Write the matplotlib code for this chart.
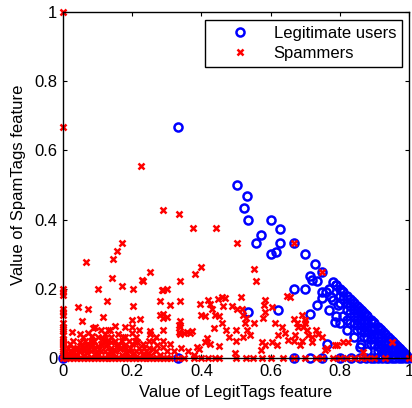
import numpy as np
import matplotlib
matplotlib.use("Agg")
import matplotlib.pyplot as plt

plt.rcParams['font.family'] = ['Liberation Sans', 'DejaVu Sans']

# legitimate users (LegitTags, SpamTags)
legit_upper = [(0.333, 0.667), (0.502, 0.5), (0.531, 0.469), (0.523, 0.434), (0.536, 0.40),
               (0.602, 0.40), (0.627, 0.374), (0.572, 0.356), (0.557, 0.333), (0.627, 0.333),
               (0.667, 0.333), (0.602, 0.30), (0.617, 0.307), (0.70, 0.30), (0.728, 0.273),
               (0.75, 0.25), (0.714, 0.238), (0.72, 0.225), (0.733, 0.222), (0.667, 0.20),
               (0.70, 0.20), (0.79, 0.21), (0.80, 0.20), (0.748, 0.172), (0.733, 0.153),
               (0.776, 0.177), (0.78, 0.167), (0.796, 0.153), (0.714, 0.127), (0.786, 0.105),
               (0.762, 0.04), (0.858, 0.033), (0.534, 0.132), (0.622, 0.139)]
legit_diag = [(0.78, 0.22), (0.79, 0.21), (0.81, 0.19), (0.82, 0.18), (0.83, 0.17),
              (0.84, 0.16), (0.85, 0.15), (0.86, 0.14), (0.87, 0.13), (0.875, 0.125),
              (0.88, 0.12), (0.89, 0.11), (0.9, 0.10), (0.91, 0.09), (0.92, 0.08),
              (0.93, 0.07), (0.94, 0.06), (0.95, 0.05), (0.96, 0.04), (0.97, 0.03),
              (0.98, 0.02), (0.99, 0.01), (1.0, 0.0), (0.805, 0.195), (0.835, 0.165),
              (0.855, 0.145), (0.865, 0.135), (0.895, 0.105), (0.915, 0.085), (0.925, 0.075),
              (0.945, 0.055), (0.955, 0.045), (0.965, 0.035), (0.975, 0.025), (0.985, 0.015)]
legit_band = [(0.8, 0.16), (0.82, 0.14), (0.84, 0.12), (0.86, 0.10), (0.88, 0.08),
              (0.9, 0.06), (0.92, 0.04), (0.94, 0.02), (0.95, 0.01), (0.81, 0.12),
              (0.83, 0.10), (0.85, 0.08), (0.87, 0.06), (0.89, 0.04), (0.91, 0.02),
              (0.92, 0.01), (0.82, 0.08), (0.84, 0.06), (0.86, 0.04), (0.88, 0.02),
              (0.77, 0.20), (0.76, 0.19), (0.80, 0.18), (0.83, 0.15), (0.85, 0.13),
              (0.87, 0.11), (0.89, 0.09), (0.91, 0.07), (0.93, 0.05), (0.95, 0.03),
              (0.97, 0.02), (0.77, 0.14), (0.79, 0.12), (0.80, 0.10), (0.82, 0.11),
              (0.75, 0.19), (0.96, 0.02), (0.98, 0.01), (0.94, 0.04), (0.9, 0.08),
              (0.82, 0.16), (0.84, 0.14), (0.86, 0.12), (0.88, 0.10), (0.90, 0.085),
              (0.92, 0.06), (0.94, 0.045), (0.96, 0.03), (0.98, 0.005), (0.83, 0.13),
              (0.85, 0.11), (0.87, 0.09), (0.89, 0.07), (0.91, 0.05), (0.93, 0.03),
              (0.95, 0.02), (0.97, 0.01), (0.84, 0.10), (0.86, 0.08), (0.88, 0.06),
              (0.90, 0.04), (0.92, 0.025), (0.94, 0.01), (0.85, 0.095), (0.87, 0.075),
              (0.89, 0.055), (0.91, 0.035), (0.93, 0.015), (0.99, 0.005), (0.81, 0.17)]
legit_zero = [(0.0, 0.0), (0.333, 0.0), (0.667, 0.0), (0.714, 0.0), (0.75, 0.0), (0.8, 0.0),
              (0.833, 0.0), (0.857, 0.0), (0.875, 0.0), (0.889, 0.0), (0.9, 0.0), (0.91, 0.0),
              (0.923, 0.0), (0.933, 0.0), (0.94, 0.0), (0.95, 0.0), (0.96, 0.0), (0.97, 0.0),
              (0.98, 0.0), (0.99, 0.0)]

# spammers
spam_scatter = [(0.0, 1.0), (0.0, 0.667), (0.225, 0.555), (0.288, 0.428), (0.336, 0.416),
                (0.375, 0.375), (0.442, 0.375), (0.503, 0.332), (0.667, 0.333), (0.75, 0.25),
                (0.551, 0.257), (0.558, 0.222), (0.17, 0.332), (0.155, 0.308), (0.145, 0.286),
                (0.066, 0.277), (0.40, 0.264), (0.251, 0.25), (0.381, 0.243), (0.141, 0.232),
                (0.227, 0.225), (0.232, 0.222), (0.338, 0.222), (0.17, 0.207), (0.102, 0.20),
                (0.203, 0.20), (0.288, 0.197), (0.30, 0.199), (0.338, 0.166), (0.126, 0.166),
                (0.28, 0.164), (0.309, 0.154), (0.044, 0.148), (0.073, 0.141), (0.203, 0.15),
                (0.29, 0.127), (0.30, 0.118), (0.199, 0.11), (0.223, 0.113), (0.338, 0.108),
                (0.054, 0.106), (0.117, 0.118), (0.15, 0.093), (0.136, 0.081), (0.088, 0.087),
                (0.174, 0.06), (0.208, 0.05), (0.251, 0.079), (0.261, 0.05), (0.29, 0.031),
                (0.338, 0.089), (0.338, 0.069), (0.357, 0.074), (0.372, 0.079), (0.386, 0.031),
                (0.025, 0.074), (0.059, 0.062), (0.073, 0.071), (0.083, 0.064), (0.396, 0.156),
                (0.41, 0.122), (0.42, 0.168), (0.459, 0.177), (0.449, 0.17), (0.468, 0.174),
                (0.514, 0.177), (0.425, 0.155), (0.463, 0.151), (0.488, 0.151), (0.502, 0.143),
                (0.516, 0.143), (0.584, 0.168), (0.582, 0.153), (0.603, 0.148), (0.431, 0.141),
                (0.439, 0.124), (0.399, 0.124), (0.521, 0.124), (0.528, 0.115), (0.526, 0.10),
                (0.553, 0.10), (0.579, 0.115), (0.584, 0.134), (0.613, 0.10), (0.632, 0.09),
                (0.335, 0.095), (0.335, 0.076), (0.349, 0.072), (0.367, 0.071), (0.437, 0.088),
                (0.415, 0.057), (0.41, 0.045), (0.425, 0.04), (0.451, 0.036), (0.393, 0.026),
                (0.531, 0.081), (0.541, 0.066), (0.574, 0.047), (0.584, 0.038), (0.603, 0.045),
                (0.618, 0.038), (0.622, 0.066), (0.642, 0.071), (0.651, 0.052), (0.497, 0.014),
                (0.572, 0.023), (0.656, 0.177), (0.69, 0.124), (0.668, 0.113), (0.68, 0.09),
                (0.695, 0.09), (0.704, 0.081), (0.709, 0.066), (0.719, 0.047), (0.738, 0.068),
                (0.748, 0.062), (0.671, 0.066), (0.667, 0.05), (0.685, 0.038), (0.791, 0.038),
                (0.81, 0.047), (0.825, 0.047), (0.757, 0.023), (0.95, 0.047), (0.646, 0.18),
                (0.285, 0.197), (0.29, 0.081), (0.28, 0.124), (0.29, 0.115), (0.213, 0.047),
                (0.199, 0.071), (0.179, 0.062), (0.092, 0.09), (0.251, 0.068), (0.271, 0.038),
                (0.48, 0.06), (0.47, 0.08), (0.50, 0.05), (0.46, 0.10), (0.45, 0.12),
                (0.50, 0.08), (0.52, 0.06), (0.70, 0.10), (0.72, 0.06), (0.69, 0.05),
                (0.73, 0.08), (0.70, 0.11), (0.676, 0.10), (0.786, 0.038), (0.762, 0.028),
                (0.868, 0.018)]
spam_origin = [(0.01, 0.01), (0.02, 0.02), (0.03, 0.01), (0.04, 0.03), (0.05, 0.02),
               (0.06, 0.01), (0.07, 0.04), (0.08, 0.02), (0.09, 0.03), (0.1, 0.01),
               (0.11, 0.04), (0.12, 0.02), (0.13, 0.05), (0.14, 0.03), (0.15, 0.02),
               (0.16, 0.04), (0.17, 0.01), (0.18, 0.03), (0.19, 0.02), (0.2, 0.04),
               (0.21, 0.02), (0.22, 0.03), (0.23, 0.01), (0.24, 0.02), (0.25, 0.03),
               (0.27, 0.02), (0.28, 0.01), (0.3, 0.02), (0.02, 0.04), (0.03, 0.05),
               (0.05, 0.045), (0.06, 0.03), (0.08, 0.05), (0.1, 0.06), (0.11, 0.02),
               (0.12, 0.05), (0.13, 0.01), (0.14, 0.06), (0.15, 0.05), (0.16, 0.07),
               (0.09, 0.05), (0.07, 0.015), (0.04, 0.01), (0.1, 0.035), (0.12, 0.07),
               (0.14, 0.045), (0.17, 0.05), (0.19, 0.05), (0.21, 0.06), (0.23, 0.04),
               (0.25, 0.05), (0.27, 0.06), (0.05, 0.07), (0.11, 0.08), (0.13, 0.08),
               (0.18, 0.09), (0.2, 0.09), (0.22, 0.08), (0.035, 0.025), (0.015, 0.03),
               (0.065, 0.05), (0.095, 0.015), (0.125, 0.035), (0.155, 0.035), (0.185, 0.015),
               (0.205, 0.015), (0.215, 0.045), (0.245, 0.015), (0.26, 0.025), (0.29, 0.05),
               (0.31, 0.04), (0.32, 0.02), (0.34, 0.03), (0.36, 0.02), (0.38, 0.01),
               (0.025, 0.015), (0.045, 0.02), (0.055, 0.035), (0.075, 0.025), (0.085, 0.04),
               (0.105, 0.025), (0.115, 0.055), (0.135, 0.02), (0.145, 0.015), (0.165, 0.025),
               (0.175, 0.035), (0.195, 0.03), (0.225, 0.02), (0.235, 0.03), (0.255, 0.01),
               (0.01, 0.02), (0.02, 0.01), (0.03, 0.03), (0.06, 0.02), (0.08, 0.035)]
spam_axis_y = [0.2, 0.19, 0.182, 0.143, 0.133, 0.125, 0.1, 0.091, 0.083, 0.077, 0.067,
               0.056, 0.05, 0.045, 0.04, 0.033, 0.025, 0.02, 0.01]
spam_axis_x = [0.0, 0.01, 0.02, 0.03, 0.04, 0.05, 0.06, 0.07, 0.08, 0.09, 0.1, 0.11, 0.12,
               0.13, 0.14, 0.15, 0.16, 0.17, 0.18, 0.19, 0.2, 0.21, 0.22, 0.23, 0.24, 0.25,
               0.26, 0.27, 0.28, 0.29, 0.3, 0.31, 0.333, 0.35, 0.378, 0.4, 0.42, 0.44, 0.45,
               0.5, 0.53, 0.55, 0.576, 0.6, 0.636, 0.667, 0.7, 0.73, 0.75, 0.78, 0.8, 0.82,
               0.84, 0.86, 0.88, 0.9, 0.93, 1.0]

tick_vals = [0, 0.2, 0.4, 0.6, 0.8, 1]
tick_labels = ['0', '0.2', '0.4', '0.6', '0.8', '1']

legit = np.array(legit_upper + legit_diag + legit_band + legit_zero)
spam = np.array(spam_scatter + spam_origin
                + [(0.0, v) for v in spam_axis_y]
                + [(v, 0.0) for v in spam_axis_x])

fig = plt.figure(figsize=(4.12, 4.08), dpi=100)
ax = fig.add_axes([63 / 412, 50 / 408, 346 / 412, 346 / 408])

ax.plot(legit[:, 0], legit[:, 1], 'o', color='#0000ff', mfc='none', ms=5.8, mew=1.8,
        clip_on=False, label='Legitimate users')
ax.plot(spam[:, 0], spam[:, 1], 'x', color='#ff0000', ms=4.3, mew=1.8,
        clip_on=False, label='Spammers')

ax.set_xlim(0, 1)
ax.set_ylim(0, 1)
ax.set_xticks(tick_vals)
ax.set_xticklabels(tick_labels)
ax.set_yticks(tick_vals)
ax.set_yticklabels(tick_labels)
ax.tick_params(direction='in', top=True, right=True, length=3, width=0.8,
               labelsize=12, pad=4)
for s in ax.spines.values():
    s.set_linewidth(1.0)

ax.set_xlabel('Value of LegitTags feature', fontsize=12, labelpad=5)
ax.set_ylabel('Value of SpamTags feature', fontsize=12, labelpad=6)

leg = ax.legend(loc='upper right', bbox_to_anchor=(402 / 412, 1 - 20 / 408),
                bbox_transform=fig.transFigure, borderaxespad=0, fancybox=False,
                edgecolor='black', framealpha=1, fontsize=12, handlelength=3.6,
                handletextpad=0.2, borderpad=0.35, labelspacing=0.3)
leg.get_frame().set_linewidth(1.0)

fig.savefig('out.png', dpi=100)
